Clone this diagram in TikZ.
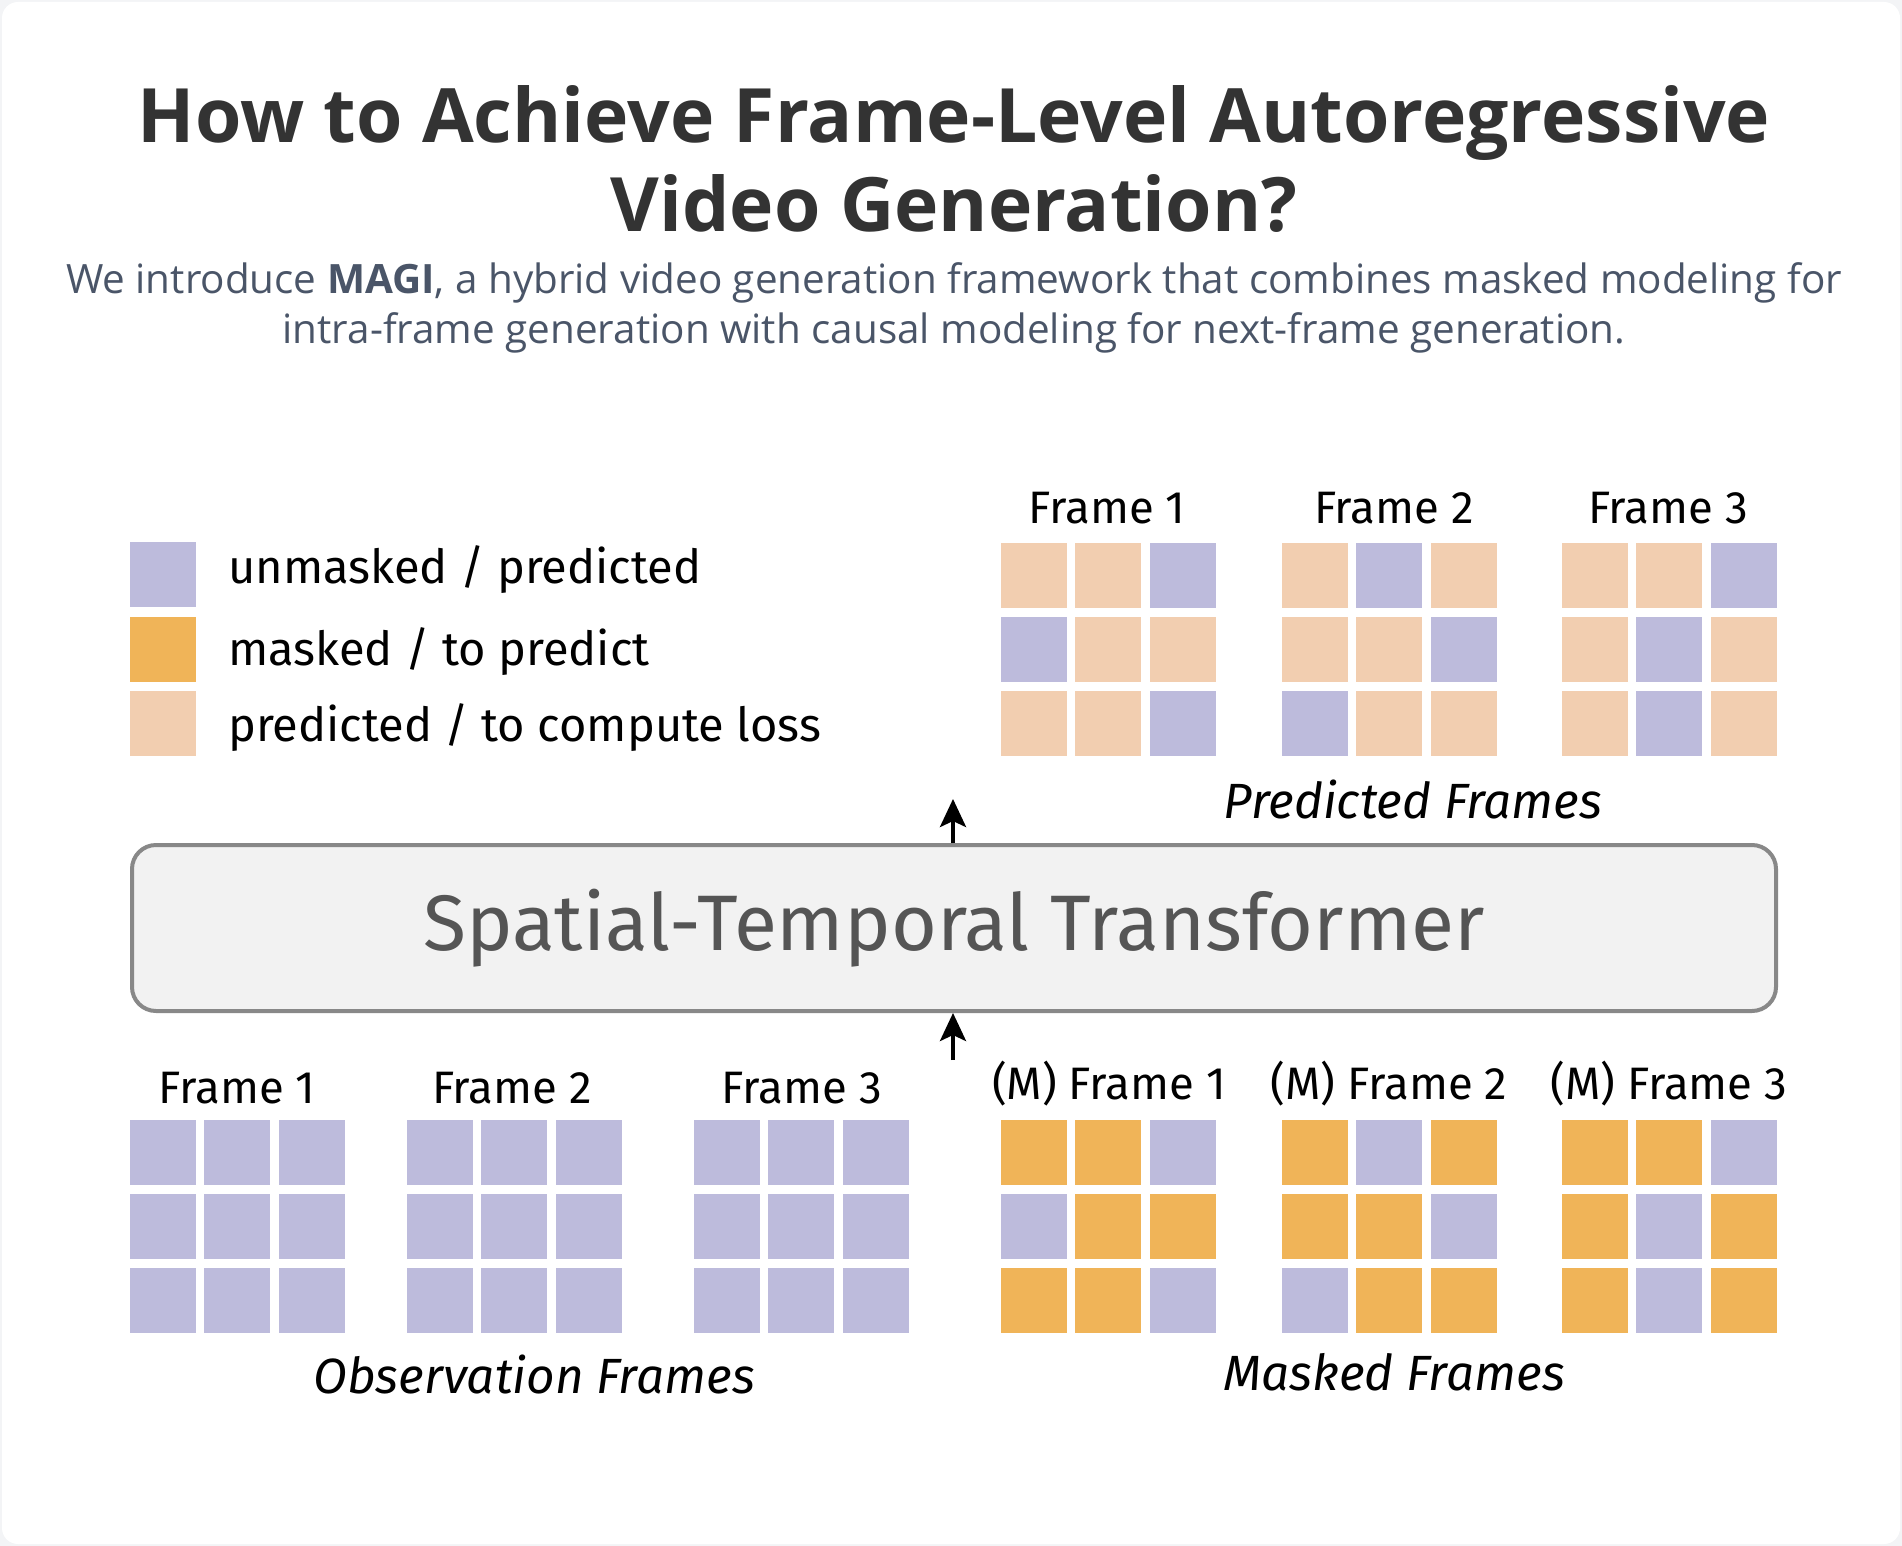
\documentclass[tikz,border=0pt]{standalone}
\usepackage{fontspec}
\setmainfont{Open Sans}
\newfontfamily\dfont{Fira Sans}
\usetikzlibrary{arrows.meta}
\definecolor{cU}{HTML}{BDBBDC}
\definecolor{cM}{HTML}{F0B458}
\definecolor{cP}{HTML}{F2CEB0}
\definecolor{pagegray}{HTML}{F3F4F6}
\definecolor{titlecol}{HTML}{333333}
\definecolor{subcol}{HTML}{4A5568}
\definecolor{boxline}{HTML}{888888}
\definecolor{boxfill}{HTML}{F2F2F2}
\definecolor{boxtext}{HTML}{555555}
\tikzset{
  cell/.style={rectangle, inner sep=0pt, minimum width=66pt, minimum height=65pt, draw=none},
  lbl/.style={font=\dfont\fontsize{45.5}{52}\selectfont, anchor=base, inner sep=0pt},
  leglbl/.style={font=\dfont\fontsize{47}{54}\selectfont, anchor=base west, inner sep=0pt},
  grplbl/.style={font=\dfont\itshape\fontsize{49.5}{56}\selectfont, anchor=base, inner sep=0pt},
  upar/.style={line width=4pt, -{Stealth[length=28pt, width=26pt, inset=6pt]}},
}
\newcommand\magigrid[4]{%
  \foreach \cl [count=\i from 0] in {#4} {%
    \pgfmathtruncatemacro\gr{\i/3}%
    \pgfmathtruncatemacro\gc{mod(\i,3)}%
    \node[cell, fill=\cl] (#1-\i) at ({#2+\gc*74.3+33},{#3+\gr*74+32.5}) {};
  }%
}
\begin{document}
\begin{tikzpicture}[x=1pt,y=-1pt]
\useasboundingbox (0,0) rectangle (1902,1546);
\fill[pagegray] (0,0) rectangle (1902,1546);
\fill[white, rounded corners=16pt] (2,2) rectangle (1900,1544);

% title
\node[anchor=base, inner sep=0pt, text=titlecol, font=\bfseries\fontsize{75}{86}\selectfont] (t1) at (954,143) {How to Achieve Frame-Level Autoregressive};
\node[anchor=base, inner sep=0pt, text=titlecol, font=\bfseries\fontsize{75}{86}\selectfont] (t2) at (954,232) {Video Generation?};
\node[anchor=base, inner sep=0pt, text=subcol, font=\fontsize{40.4}{46}\selectfont] (s1) at (954,293) {We introduce \textbf{MAGI}, a hybrid video generation framework that combines masked modeling for};
\node[anchor=base, inner sep=0pt, text=subcol, font=\fontsize{40.4}{46}\selectfont] (s2) at (954,343) {intra-frame generation with causal modeling for next-frame generation.};

% legend
\node[cell, fill=cU] (legu) at (163,574.5) {};
\node[cell, fill=cM] (legm) at (163,649) {};
\node[cell, fill=cP] (legp) at (163,723) {};
\node[leglbl] (legut) at (228,583) {unmasked / predicted};
\node[leglbl] (legmt) at (228,665) {masked / to predict};
\node[leglbl] (legpt) at (228,741) {predicted / to compute loss};

% predicted frames
\node[lbl] (pf1) at (1107,523) {Frame 1};
\node[lbl] (pf2) at (1394,523) {Frame 2};
\node[lbl] (pf3) at (1668,523) {Frame 3};
\magigrid{p1}{1001}{543}{cP,cP,cU,cU,cP,cP,cP,cP,cU}
\magigrid{p2}{1282}{543}{cP,cU,cP,cP,cP,cU,cU,cP,cP}
\magigrid{p3}{1562}{543}{cP,cP,cU,cP,cU,cP,cP,cU,cP}
\node[grplbl] (predlbl) at (1413,818) {Predicted Frames};

% transformer
\node[rectangle, rounded corners=24pt, draw=boxline, line width=4pt, fill=boxfill,
      minimum width=1644pt, minimum height=166pt, inner sep=0pt,
      text=boxtext, font=\dfont\fontsize{78.7}{88}\selectfont] (stt) at (954,928) {Spatial-Temporal Transformer};
\coordinate (outtip) at (953,799);
\coordinate (intail) at (953,1060);
\draw[upar] (stt.north -| outtip) -- (outtip);
\draw[upar] (intail) -- (stt.south -| intail);

% observation frames
\node[lbl] (of1) at (237,1103) {Frame 1};
\node[lbl] (of2) at (512,1103) {Frame 2};
\node[lbl] (of3) at (802,1103) {Frame 3};
\magigrid{o1}{130}{1120}{cU,cU,cU,cU,cU,cU,cU,cU,cU}
\magigrid{o2}{407}{1120}{cU,cU,cU,cU,cU,cU,cU,cU,cU}
\magigrid{o3}{694}{1120}{cU,cU,cU,cU,cU,cU,cU,cU,cU}
\node[grplbl] (obslbl) at (534,1393) {Observation Frames};

% masked frames
\node[lbl] (mf1) at (1109,1099) {(M) Frame 1};
\node[lbl] (mf2) at (1389,1099) {(M) Frame 2};
\node[lbl] (mf3) at (1669,1099) {(M) Frame 3};
\magigrid{m1}{1001}{1120}{cM,cM,cU,cU,cM,cM,cM,cM,cU}
\magigrid{m2}{1282}{1120}{cM,cU,cM,cM,cM,cU,cU,cM,cM}
\magigrid{m3}{1562}{1120}{cM,cM,cU,cM,cU,cM,cM,cU,cM}
\node[grplbl] (masklbl) at (1394,1390) {Masked Frames};
\end{tikzpicture}
\end{document}
